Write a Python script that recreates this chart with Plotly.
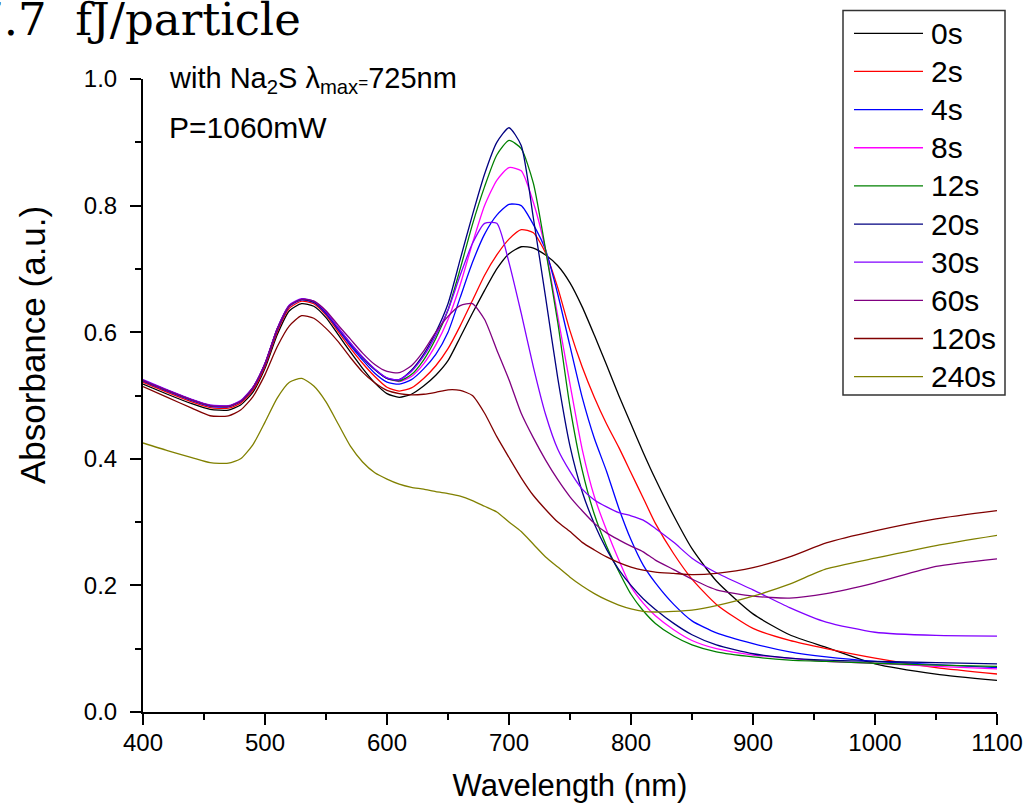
import plotly.graph_objects as go

wavelength = [400, 420, 440, 455, 470, 480, 490, 500, 510, 520, 530, 540, 550, 560, 570, 580, 590,
              600, 610, 620, 630, 640, 650, 660, 670, 680, 690, 700, 710, 720, 730, 740, 750,
              760, 770, 780, 790, 800, 810, 820, 835, 850, 870, 900, 930, 960, 1000, 1050, 1100]

s0 = [0.518, 0.502, 0.487, 0.478, 0.477, 0.485, 0.505, 0.543, 0.596, 0.634, 0.645, 0.641, 0.623, 0.596, 0.569, 0.543, 0.520,
      0.503, 0.497, 0.502, 0.515, 0.532, 0.555, 0.592, 0.630, 0.666, 0.700, 0.724, 0.735, 0.733, 0.722, 0.705, 0.678,
      0.640, 0.595, 0.548, 0.500, 0.455, 0.410, 0.368, 0.310, 0.258, 0.207, 0.155, 0.122, 0.102, 0.076, 0.060, 0.050]
s2 = [0.521, 0.505, 0.490, 0.481, 0.480, 0.488, 0.508, 0.546, 0.600, 0.638, 0.649, 0.645, 0.627, 0.601, 0.575, 0.551, 0.530,
      0.513, 0.507, 0.512, 0.527, 0.547, 0.574, 0.610, 0.650, 0.690, 0.722, 0.747, 0.762, 0.757, 0.725, 0.670, 0.602,
      0.545, 0.497, 0.455, 0.418, 0.378, 0.338, 0.298, 0.250, 0.210, 0.170, 0.132, 0.113, 0.100, 0.085, 0.070, 0.060]
s4 = [0.523, 0.507, 0.492, 0.483, 0.482, 0.490, 0.511, 0.549, 0.603, 0.641, 0.651, 0.647, 0.629, 0.604, 0.579, 0.556, 0.535,
      0.521, 0.518, 0.525, 0.542, 0.565, 0.600, 0.655, 0.710, 0.755, 0.785, 0.802, 0.800, 0.770, 0.730, 0.660, 0.578,
      0.497, 0.432, 0.380, 0.322, 0.272, 0.232, 0.204, 0.170, 0.144, 0.125, 0.108, 0.095, 0.087, 0.080, 0.075, 0.070]
s8 = [0.524, 0.508, 0.493, 0.484, 0.483, 0.491, 0.512, 0.550, 0.605, 0.642, 0.652, 0.648, 0.631, 0.606, 0.582, 0.560, 0.541,
      0.527, 0.522, 0.530, 0.550, 0.580, 0.620, 0.675, 0.740, 0.800, 0.840, 0.860, 0.855, 0.805, 0.730, 0.625, 0.518,
      0.415, 0.340, 0.287, 0.240, 0.198, 0.172, 0.152, 0.130, 0.113, 0.100, 0.090, 0.085, 0.080, 0.077, 0.072, 0.068]
s12 = [0.524, 0.508, 0.493, 0.484, 0.483, 0.491, 0.512, 0.550, 0.605, 0.642, 0.652, 0.648, 0.631, 0.606, 0.582, 0.560, 0.541,
       0.527, 0.523, 0.533, 0.556, 0.590, 0.635, 0.700, 0.770, 0.830, 0.880, 0.903, 0.890, 0.835, 0.730, 0.615, 0.482,
       0.382, 0.312, 0.262, 0.222, 0.186, 0.160, 0.140, 0.120, 0.106, 0.095, 0.087, 0.082, 0.080, 0.077, 0.074, 0.072]
s20 = [0.524, 0.508, 0.493, 0.484, 0.483, 0.491, 0.512, 0.550, 0.605, 0.642, 0.652, 0.648, 0.631, 0.606, 0.582, 0.560, 0.541,
       0.527, 0.525, 0.540, 0.565, 0.600, 0.645, 0.715, 0.785, 0.850, 0.900, 0.923, 0.895, 0.780, 0.655, 0.527, 0.420,
       0.348, 0.297, 0.257, 0.225, 0.200, 0.179, 0.162, 0.140, 0.122, 0.106, 0.092, 0.085, 0.082, 0.080, 0.078, 0.076]
s30 = [0.525, 0.509, 0.494, 0.485, 0.484, 0.492, 0.513, 0.551, 0.606, 0.643, 0.653, 0.649, 0.632, 0.607, 0.583, 0.561, 0.542,
       0.528, 0.525, 0.538, 0.562, 0.595, 0.635, 0.690, 0.740, 0.772, 0.772, 0.710, 0.630, 0.545, 0.470, 0.415, 0.380,
       0.352, 0.335, 0.324, 0.315, 0.310, 0.303, 0.290, 0.268, 0.243, 0.220, 0.193, 0.165, 0.142, 0.126, 0.121, 0.120]
s60 = [0.524, 0.508, 0.493, 0.484, 0.483, 0.491, 0.512, 0.550, 0.605, 0.642, 0.652, 0.649, 0.634, 0.611, 0.589, 0.567, 0.549,
       0.538, 0.536, 0.547, 0.570, 0.600, 0.625, 0.642, 0.645, 0.620, 0.572, 0.525, 0.472, 0.433, 0.398, 0.367, 0.340,
       0.318, 0.298, 0.283, 0.272, 0.262, 0.253, 0.240, 0.225, 0.210, 0.193, 0.183, 0.180, 0.187, 0.204, 0.230, 0.242]
s120 = [0.514, 0.497, 0.480, 0.468, 0.468, 0.477, 0.498, 0.533, 0.577, 0.610, 0.626, 0.622, 0.606, 0.585, 0.560, 0.537, 0.520,
        0.508, 0.503, 0.501, 0.502, 0.505, 0.509, 0.508, 0.500, 0.472, 0.435, 0.402, 0.370, 0.342, 0.320, 0.300, 0.285,
        0.268, 0.256, 0.245, 0.236, 0.229, 0.224, 0.221, 0.219, 0.217, 0.219, 0.228, 0.245, 0.267, 0.286, 0.305, 0.318]
s240 = [0.425, 0.413, 0.402, 0.394, 0.393, 0.400, 0.422, 0.458, 0.496, 0.521, 0.527, 0.515, 0.490, 0.455, 0.420, 0.395, 0.378,
        0.368, 0.360, 0.355, 0.352, 0.348, 0.345, 0.341, 0.334, 0.325, 0.316, 0.300, 0.285, 0.265, 0.245, 0.229, 0.213,
        0.199, 0.187, 0.177, 0.169, 0.163, 0.159, 0.158, 0.159, 0.161, 0.168, 0.183, 0.202, 0.226, 0.243, 0.263, 0.279]

labels = ["0s", "2s", "4s", "8s", "12s", "20s", "30s", "60s", "120s", "240s"]
series = [s0, s2, s4, s8, s12, s20, s30, s60, s120, s240]
colors = ["#000000", "#FF0000", "#0000FF", "#FF00FF", "#008000", "#000080", "#8000FF", "#800080", "#800000", "#808000"]

x_ticks = [400, 500, 600, 700, 800, 900, 1000, 1100]
y_ticks = [0.0, 0.2, 0.4, 0.6, 0.8, 1.0]

fig = go.Figure()
for name, ys, c in zip(labels, series, colors):
    fig.add_trace(go.Scatter(x=wavelength, y=ys, mode="lines", name=name,
                             line=dict(color=c, width=1.3, shape="spline", smoothing=0.6),
                             showlegend=False))

W, H = 1031, 811
L, R, T, B = 143, 34, 79, 99
pw, ph = W - L - R, H - T - B

def px2x(px):
    return (px - L) / pw

def py2y(py):
    return (H - B - py) / ph

FONT = "Liberation Sans, Arial"

# manual legend (box + sample lines + labels)
shapes = [dict(type="rect", xref="paper", yref="paper",
               x0=px2x(843), x1=px2x(1005), y0=py2y(395), y1=py2y(10.5),
               line=dict(color="#333333", width=1.5), fillcolor="white", layer="above")]
annotations = []
for i, (name, c) in enumerate(zip(labels, colors)):
    yy = py2y(33.3 + i * 38.15)
    shapes.append(dict(type="line", xref="paper", yref="paper", x0=px2x(854), x1=px2x(923),
                       y0=yy, y1=yy, line=dict(color=c, width=1.3), layer="above"))
    annotations.append(dict(xref="paper", yref="paper", x=px2x(929), y=yy, text=name,
                            showarrow=False, xanchor="left", yanchor="middle",
                            font=dict(family=FONT, size=30, color="black")))

annotations.append(dict(xref="paper", yref="paper", x=px2x(167), y=py2y(80),
                        text="with Na<sub>2</sub>S λ<sub>max</sub><span style='font-size:17px'>=</span>725nm",
                        showarrow=False, xanchor="left", yanchor="middle",
                        font=dict(family=FONT, size=29, color="black")))
annotations.append(dict(xref="paper", yref="paper", x=px2x(167), y=py2y(127),
                        text="P=1060mW", showarrow=False, xanchor="left", yanchor="middle",
                        font=dict(family=FONT, size=30, color="black")))
annotations.append(dict(xref="paper", yref="paper", x=px2x(303), y=py2y(20),
                        text="7.7  fJ/particle", showarrow=False, xanchor="right", yanchor="middle",
                        font=dict(family="DejaVu Serif", size=45, color="black")))
annotations.append(dict(xref="paper", yref="paper", x=px2x(32), y=py2y(345),
                        text="Absorbance (a.u.)", textangle=-90, showarrow=False,
                        xanchor="center", yanchor="middle",
                        font=dict(family=FONT, size=35, color="black")))

fig.update_layout(
    width=W, height=H,
    margin=dict(l=L, r=R, t=T, b=B, pad=0),
    paper_bgcolor="white", plot_bgcolor="white",
    shapes=shapes, annotations=annotations,
    font=dict(family=FONT, color="black"),
    xaxis=dict(range=[400, 1100], tickvals=x_ticks, ticktext=[str(v) for v in x_ticks],
               automargin=False,
               showgrid=False, zeroline=False, showline=True, linecolor="black", linewidth=2,
               ticks="outside", ticklen=11, tickwidth=2, tickcolor="black",
               tickfont=dict(size=24), ticklabelstandoff=-3,
               minor=dict(dtick=50, ticks="outside", ticklen=6, tickwidth=2, tickcolor="black", showgrid=False),
               title=dict(text="Wavelength (nm)", font=dict(size=31), standoff=20)),
    yaxis=dict(range=[0, 1.0], tickvals=y_ticks, ticktext=["%.1f" % v for v in y_ticks],
               automargin=False,
               showgrid=False, zeroline=False, showline=True, linecolor="black", linewidth=2,
               ticks="outside", ticklen=11, tickwidth=2, tickcolor="black",
               tickfont=dict(size=24), ticklabelstandoff=8,
               minor=dict(dtick=0.1, ticks="outside", ticklen=6, tickwidth=2, tickcolor="black", showgrid=False)),
)

fig.write_html("out.html", config={"displayModeBar": False},
               post_script="document.body.style.margin='0';document.body.style.padding='0';")
